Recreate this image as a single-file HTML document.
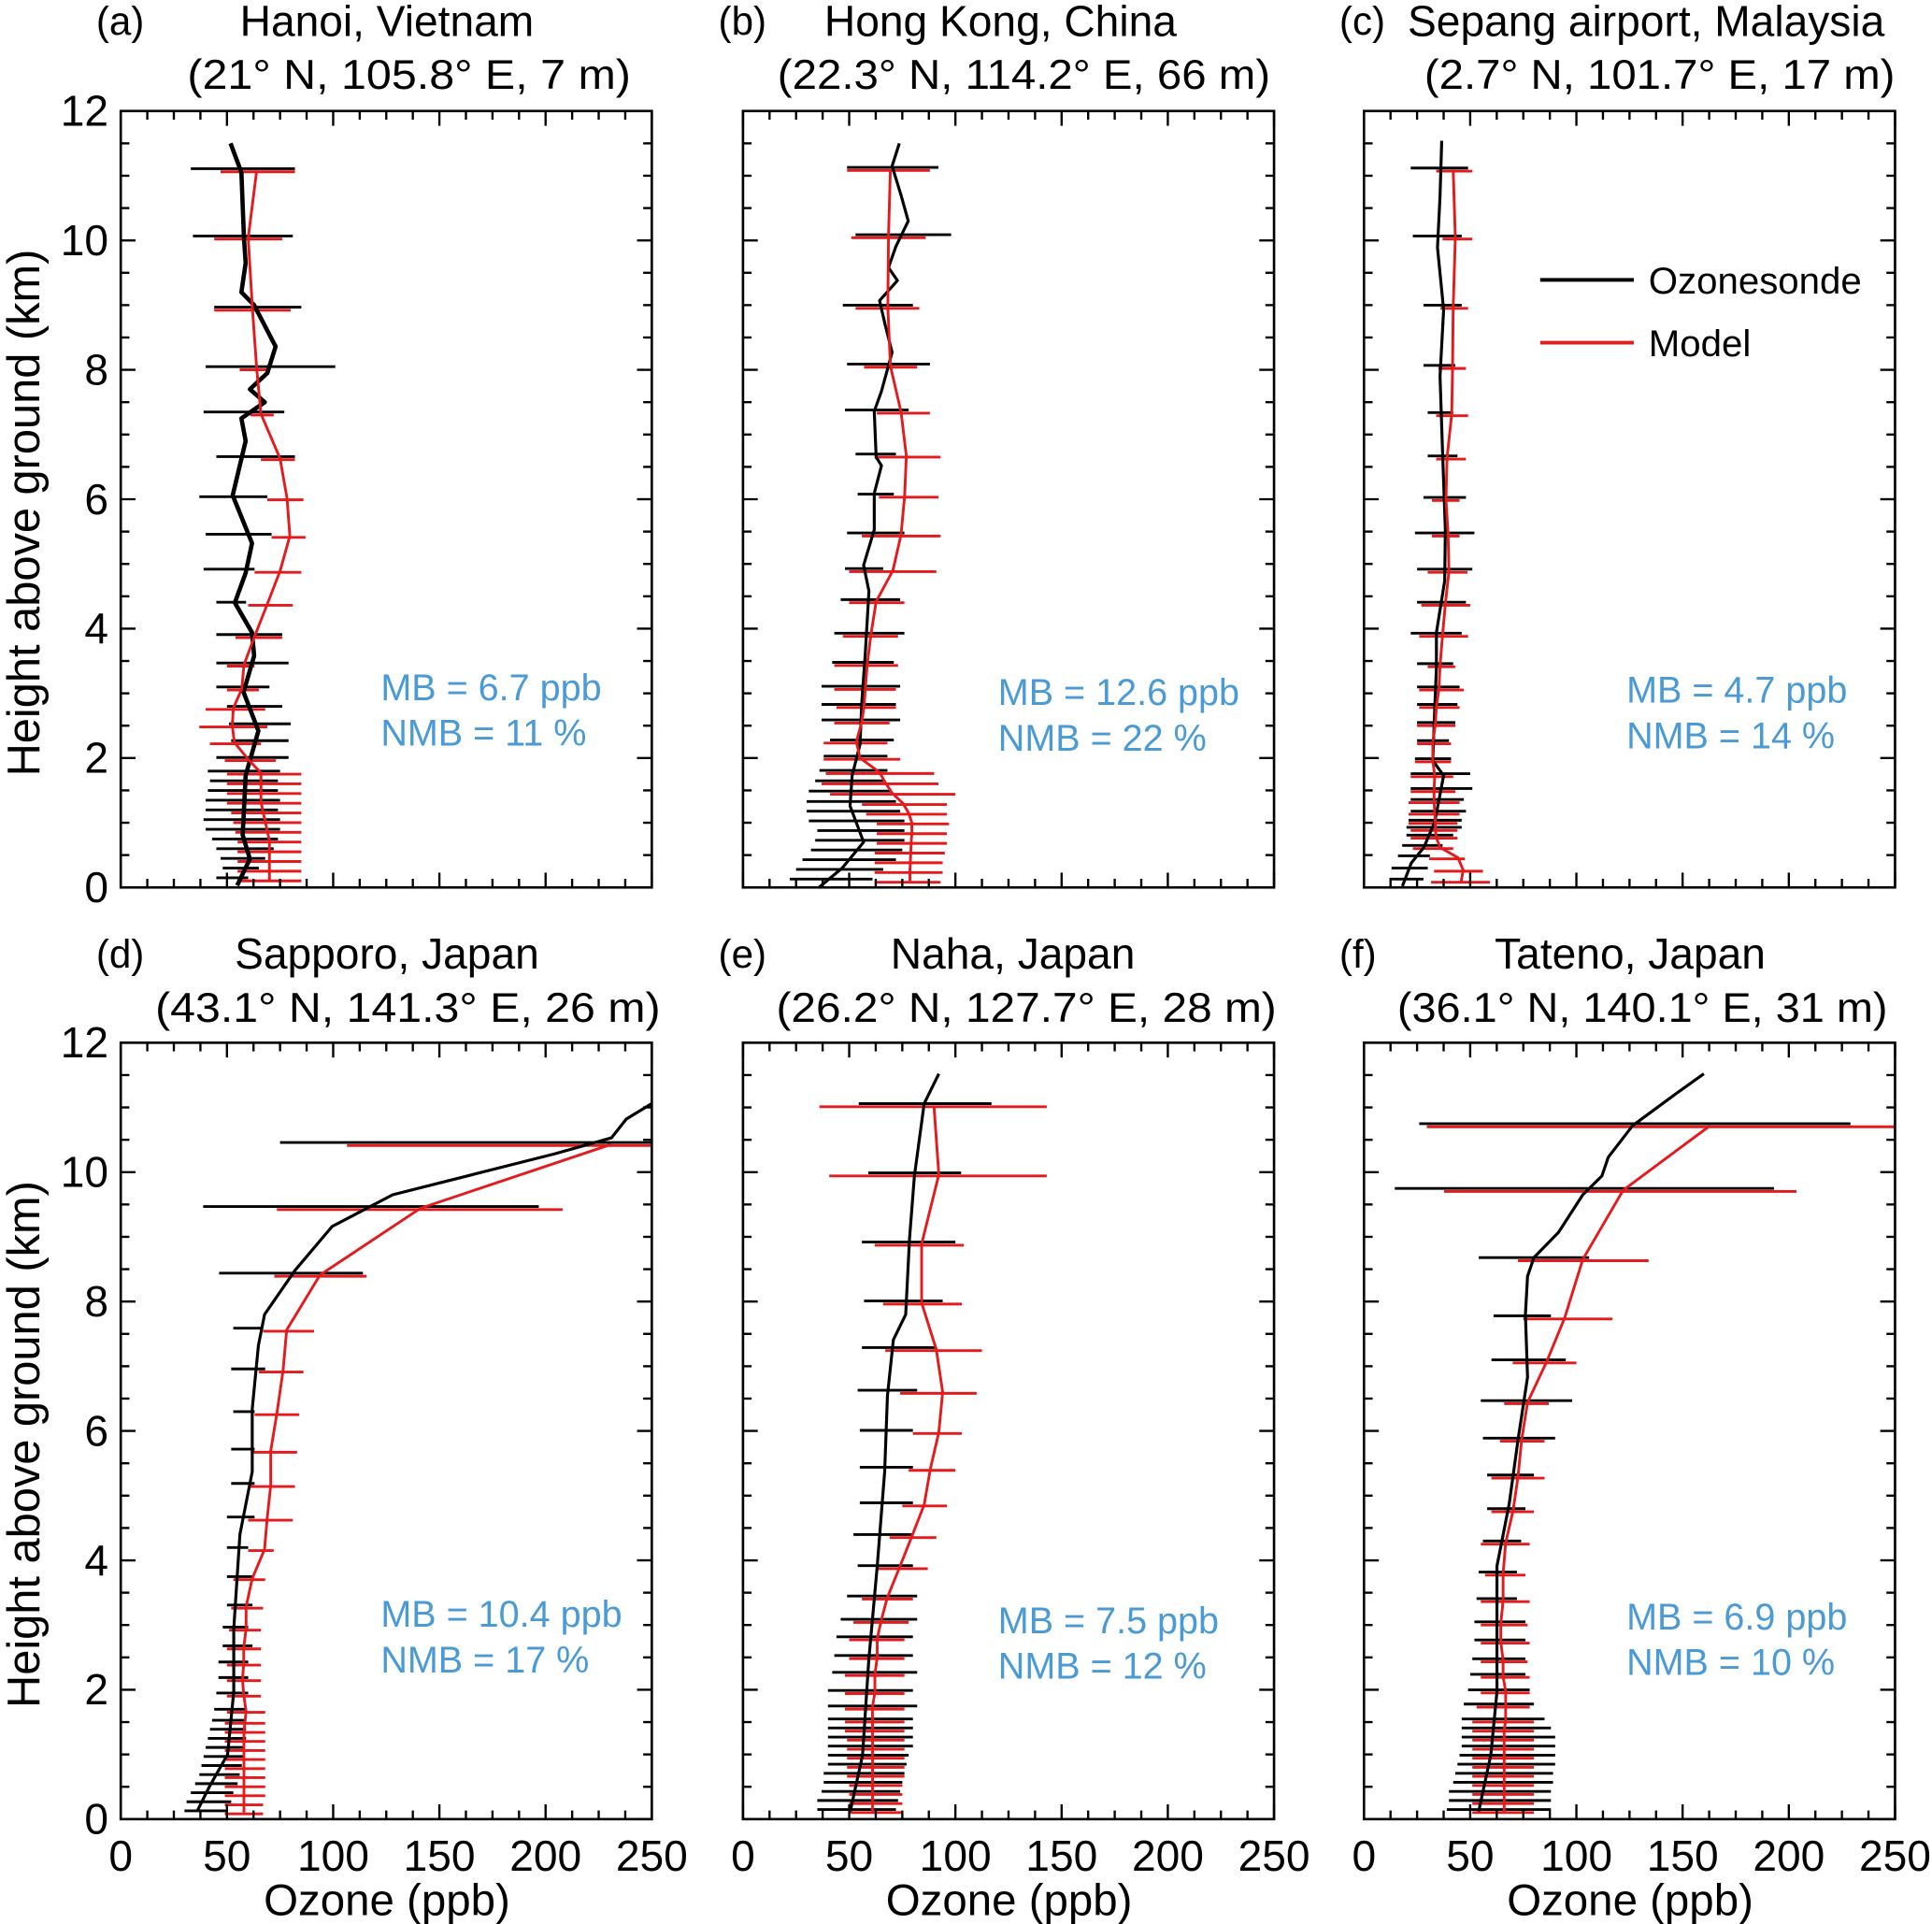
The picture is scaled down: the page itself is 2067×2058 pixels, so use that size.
<!DOCTYPE html>
<html><head><meta charset="utf-8"><style>
html,body{margin:0;padding:0;background:#fff}
svg{display:block}
text{font-family:"Liberation Sans",Arial,sans-serif}
</style></head><body>
<svg id="fig" width="2067" height="2058" viewBox="0 0 1568 1561" xmlns="http://www.w3.org/2000/svg"></svg>
<script>
// ---- Panel (a) Hanoi ----
const aLev=[0.12,0.27,0.42,0.57,0.72,0.87,1.02,1.17,1.32,1.47,1.62,1.77,1.98,2.24,2.5,2.77,3.07,3.44,3.88,4.38,4.89,5.43,6.01,6.63,7.32,8.02,8.94,10.04,11.08];
const aMod=[70,70,70,70,70,69,68,67,66,66,66,66,60,53.5,52.5,53,57,58,63,69,75,79.6,78.3,75,66,64,62,60,64];
const aModLo=[55,55,55,55,55,54,53,52,50,50,50,50,49,42,37,40,50,50,54,60,63,71,69,66,61,56,44,44,47];
const aModHi=[85,85,85,85,85,85,85,85,85,85,85,85,73,66,69,68,65,63,76,81,85,87,86,82,72,69,80,76,82];
const aObsLo=[45,48,47,45,43,40,39,40,40,41,42,41,45,52,51,50,45,45,45,45,39,40,37,45,39,40,44,34,33];
const aObsHi=[60,65,68,72,74,75,75,74,75,74,74,75,79,79,80,76,70,79,76,59,63,71,69,82,77,101,85,81,82];
const aSondeH=[0.03,0.44,0.81,1.73,2.42,3.02,3.58,3.94,4.4,4.86,5.32,6.06,6.9,7.25,7.5,7.7,7.95,8.36,9.0,9.2,9.65,10.04,11.05,11.5];
const aSondeO=[54.8,60.8,57.4,58.8,64.8,57.8,62.8,61.8,53.7,58.8,61.8,52.7,58.8,56.8,67.8,60.8,69,72.9,62.8,56.8,58.8,58,56.8,51.7];
// ---- Panel (b) Hong Kong ----
const bLev=[0.1,0.25,0.4,0.55,0.7,0.85,1.0,1.15,1.3,1.46,1.62,1.78,2.0,2.25,2.56,2.8,3.08,3.45,3.9,4.42,4.9,5.45,6.05,6.67,7.35,8.06,8.97,10.06,11.1];
const bMod=[78.6,78.6,78.8,79,79.2,79.5,79.5,78,75.3,70.2,67,64.3,55.1,53.4,55.9,57,57.6,58.5,60.2,62.7,70.6,74.4,76.1,76.9,74.4,69.4,68.2,68.5,69.4];
const bModLo=[62,62,62,62,63,63,63,58,56,41,37,39,38,38,43,44,43,43,47,50,50,56,64,62,63,57,53,51,49];
const bModHi=[93,94,94,95,96,96,97,96,96,100,92,90,74,68,69,72,72,73,73,76,91,93,92,93,88,82,83,86,88];
const bObsLo=[22,25,28,32,34,35,31,30,30,31,34,36,38,41,37,37,37,42,43,46,48,49,54,53,48,49,47,53,49];
const bObsHi=[61,66,72,75,76,76,76,74,72,70,66,68,68,71,74,72,74,71,76,74,66,76,71,72,78,88,80,98,92];
const bSondeH=[0,0.3,0.7,1.26,1.73,2.21,2.84,3.63,4.58,4.98,5.53,6.09,6.52,6.65,7.36,7.67,8.27,8.7,9.07,9.38,9.58,9.9,10.3,10.7,11.15,11.5];
const bSondeO=[35.8,46.7,56.8,50.4,51.4,55.1,55.9,57.6,59.3,56.8,61.8,61.8,65.2,62.7,61.8,65.2,70.2,66.9,64.3,72.7,68.5,71.9,77.8,74.4,70.2,73.6];
// ---- Panel (c) Sepang ----
const cLev=[0.1,0.27,0.46,0.62,0.78,0.9,1.01,1.15,1.33,1.5,1.73,1.96,2.24,2.52,2.8,3.07,3.43,3.9,4.38,4.89,5.45,6.0,6.64,7.31,8.04,8.97,10.04,11.09];
const cMod=[45.8,46.7,44.2,35.8,34,33.6,33.6,33.3,33,33,33.3,32.4,32.4,33.6,34.1,35.3,35.8,37,38.3,40,39.6,38.6,39.1,41.3,41.7,42,43,42];
const cModLo=[31.6,33,30.7,23,22,22,21,21,21,22,22,24,25,25,26,26,30,26,27,30,32,32,34,34,35,36,37,34];
const cModHi=[59.3,56,47.5,42,44,44,44,45,45,43,42,41,41,43,45,47,43,49,50,48.7,45,45,48,49,48,49,51,51];
const cObsLo=[12,13,16,18,20,20,21,22,22,22,22,24,25,25,25,25,25,22,25,25,24,28,30,30,28,28,23,22];
const cObsHi=[28,30,31,37,42,46,46,48,47,51,50,41,40,43,44,45,42,46,48,51,52,48,44,42,43,46,46,49];
const cSondeH=[0.02,0.38,0.62,1.01,1.73,1.96,2.76,3.39,3.94,4.74,5.53,6.72,7.9,8.93,9.89,10.68,11.54];
const cSondeO=[18.1,22.3,28.2,33.3,37.5,32.4,33.3,34.1,34.1,38,38.3,37,35.8,37.5,34.6,35.8,36.6];
// ---- Panel (d) Sapporo ----
const dLev=[0.1,0.24,0.38,0.52,0.66,0.8,0.94,1.08,1.22,1.36,1.5,1.67,1.92,2.16,2.4,2.65,2.94,3.28,3.72,4.17,4.64,5.16,5.69,6.27,6.93,7.56,8.41,9.44,10.43];
const dMod=[58,58,58,58,58,58,58,58,58,58,58.5,59,57.9,57.3,57.9,57.9,59,59,61.9,67.7,68.9,70.6,70.6,73.5,76.4,78.1,93.8,141,231];
const dModLo=[49,49,49,49,49,49,49,49,49,49,49,50,50,50,50,50,51,52,53,60,60,61,62,63,65,67,72.3,73.5,106.5];
const dModHi=[67,67,68,68,68,68,68,68,68,68,68,68,66,66,66,66,66,67,68,72,81,82,83,84,86,91,115.7,208,262];
const dObsLo=[30,31,33,35,37,38,39,40,41,42,43,44,45,46,46,48,48,50,50,50,50,52,52,53,52,53,46.3,38.8,75];
const dObsHi=[50,52,53,55,56,57,58,58,59,59,59,59,60,60,60,62,60,62,62,60,63,63,63,63,68,67,114,196.8,262];
const dSondeH=[0.12,0.5,1.0,1.97,2.94,4.4,5.37,6.34,7.32,7.8,8.48,9.16,9.65,9.94,10.28,10.53,10.82,11.06];
const dSondeO=[35.9,41.7,50.3,53.2,53.2,56.1,61.9,61.9,64.8,67.7,82,99.5,128,163,204,231,238,250];
// ---- Panel (e) Naha ----
const eLev=[0.12,0.26,0.4,0.54,0.68,0.82,0.96,1.1,1.24,1.38,1.52,1.72,1.96,2.24,2.5,2.79,3.06,3.42,3.89,4.37,4.86,5.41,5.98,6.6,7.26,7.98,8.89,9.96,11.03];
const eMod=[61,61,61,61,61,61,61,61,61,61,61,60.9,62.1,62.1,63.2,63.2,65,67.9,73.7,79.5,85.3,88.2,92.2,94,91,84.1,84.1,92.2,89.9];
const eModLo=[50,50,50,50,49,49,49,49,49,48,48,48,48,48,50,50,52,56,63,69,75,78,80,74,67,66,62,40.6,36];
const eModHi=[75,75,75,75,76,76,76,76,76,76,76,76,76,76,76,76,78,80,87,91,96,100,103,110,112.5,103,104,143,143];
const eObsLo=[35,35,37,38,38,40,40,40,40,40,40,40,40,42,43,44,46,49,54,52,55,55,55,54,56,57,56,59,54.5];
const eObsHi=[72,73,74,75,76,77,78,80,80,80,80,82,80,82,80,80,82,82,80,80,80,80,80,82,91,94,100,102.7,117];
const eSondeH=[0.12,0.99,2.45,3.91,5.37,6.54,7.41,7.8,8.97,9.94,11.06,11.52];
const eSondeO=[50.5,56.3,59.2,63.2,66.7,68,70.8,76.6,78.4,80.7,85.3,92.2];
// ---- Panel (f) Tateno ----
const fLev=[0.12,0.26,0.4,0.54,0.68,0.82,0.96,1.1,1.24,1.38,1.52,1.75,1.97,2.21,2.45,2.74,3.02,3.38,3.79,4.27,4.77,5.29,5.86,6.44,7.07,7.75,8.65,9.72,10.72];
const fMod=[66,66,66,66,66,66,66,66,66,66,66.7,66.7,66.7,65.5,65.5,64.4,64.4,65.5,65.5,66.7,70.2,72.5,74.2,77,86,94.5,103,122,163];
const fModLo=[51,51,51,51,51,51,51,51,51,51,51,53,55,55,55,55,55,55,57,55,60,60,64,66,70,75,72.5,37.7,29.6];
const fModHi=[80,80,80,80,80,80,80,80,80,80,80,78,78,78,77,78,77,78,76,78,80,85,85,87,100,117,134,203.6,270];
const fObsLo=[39,40,40,42,43,44,45,46,46,46,46,47,49,50,51,52,52,53,54,56,58,58,56,55,60,61,54,14.5,26];
const fObsHi=[88,88,88,89,89,90,90,90,90,88,85,80,78,76,76,76,76,72,72,74,76,80,90,98,95,88,106,193,229];
const fSondeH=[0.12,0.99,1.97,2.94,3.91,4.88,5.86,6.83,7.8,8.39,8.68,9.07,9.65,9.94,10.23,10.72,11.21,11.52];
const fSondeO=[54,59.7,62.6,62.6,62.6,68.4,72.5,77,76,77,80,91.6,103,112,115,126.5,146.8,160];

const xTicks=[0,50,100,150,200,250];
const yTicks=[0,2,4,6,8,10,12];
const stats=[["MB = 6.7 ppb","NMB = 11 %"],["MB = 12.6 ppb","NMB = 22 %"],["MB = 4.7 ppb","NMB = 14 %"],["MB = 10.4 ppb","NMB = 17 %"],["MB = 7.5 ppb","NMB = 12 %"],["MB = 6.9 ppb","NMB = 10 %"]];

const NS="http://www.w3.org/2000/svg";
const svg=document.getElementById('fig');
function mk(tag,attrs,parent){const e=document.createElementNS(NS,tag);for(const k in attrs)e.setAttribute(k,attrs[k]);(parent||svg).appendChild(e);return e;}
function txt(s,attrs,parent){const e=mk('text',attrs,parent);e.textContent=s;return e;}

const panels=[
 {id:'a',x0:98,y0:90,lev:aLev,mod:aMod,mlo:aModLo,mhi:aModHi,olo:aObsLo,ohi:aObsHi,sh:aSondeH,so:aSondeO,st:[309,568]},
 {id:'b',x0:603,y0:90,lev:bLev,mod:bMod,mlo:bModLo,mhi:bModHi,olo:bObsLo,ohi:bObsHi,sh:bSondeH,so:bSondeO,st:[810,572]},
 {id:'c',x0:1107,y0:90,lev:cLev,mod:cMod,mlo:cModLo,mhi:cModHi,olo:cObsLo,ohi:cObsHi,sh:cSondeH,so:cSondeO,st:[1320,570]},
 {id:'d',x0:98,y0:846,lev:dLev,mod:dMod,mlo:dModLo,mhi:dModHi,olo:dObsLo,ohi:dObsHi,sh:dSondeH,so:dSondeO,st:[309,1320]},
 {id:'e',x0:603,y0:846,lev:eLev,mod:eMod,mlo:eModLo,mhi:eModHi,olo:eObsLo,ohi:eObsHi,sh:eSondeH,so:eSondeO,st:[810,1325]},
 {id:'f',x0:1107,y0:846,lev:fLev,mod:fMod,mlo:fModLo,mhi:fModHi,olo:fObsLo,ohi:fObsHi,sh:fSondeH,so:fSondeO,st:[1320,1322]}
];
const W=431,H=630;
panels.forEach((p,i)=>{
  const g=mk('g',{});
  
  
  const X=v=>p.x0+v/250*W, Y=v=>p.y0+H-v/12*H;
  const cp=mk('clipPath',{id:'clip'+p.id},g);
  mk('rect',{x:p.x0,y:p.y0,width:W,height:H},cp);
  const plot=mk('g',{'clip-path':'url(#clip'+p.id+')'},g);
  p.lev.forEach((h,k)=>{const l=mk('line',{x1:X(p.olo[k]),x2:X(p.ohi[k]),y1:Y(h)-1.5,y2:Y(h)-1.5,stroke:'#000','stroke-width':2.2},plot);
    });
  p.lev.forEach((h,k)=>{const l=mk('line',{x1:X(p.mlo[k]),x2:X(p.mhi[k]),y1:Y(h)+1,y2:Y(h)+1,stroke:'#e41a1c','stroke-width':2.2},plot);
    });
  const sp=mk('polyline',{points:p.sh.map((h,k)=>X(p.so[k])+','+Y(h)).join(' '),fill:'none',stroke:'#000','stroke-width':p.id==='a'?3.5:2.4,'stroke-linejoin':'round'},plot);
  
  const mp=mk('polyline',{points:p.lev.map((h,k)=>X(p.mod[k])+','+Y(h)).join(' '),fill:'none',stroke:'#e41a1c','stroke-width':2.2},plot);
  
  const fr=mk('rect',{x:p.x0,y:p.y0,width:W,height:H,fill:'none',stroke:'#000','stroke-width':2},g);
  
  for(let v=0;v<=250.01;v+=12.5){const maj=Math.abs(v%50)<0.01;const L=maj?12:7;
    mk('line',{x1:X(v),x2:X(v),y1:p.y0+H,y2:p.y0+H-L,stroke:'#000','stroke-width':1.8},g);
    mk('line',{x1:X(v),x2:X(v),y1:p.y0,y2:p.y0+L,stroke:'#000','stroke-width':1.8},g);}
  for(let v=0;v<=12.01;v+=0.5){const maj=Math.abs(v%2)<0.01;const L=maj?12:7;
    mk('line',{x1:p.x0,x2:p.x0+L,y1:Y(v),y2:Y(v),stroke:'#000','stroke-width':1.8},g);
    mk('line',{x1:p.x0+W,x2:p.x0+W-L,y1:Y(v),y2:Y(v),stroke:'#000','stroke-width':1.8},g);}
  if(p.x0===98){yTicks.forEach(v=>{const t=txt(String(v),{x:88,y:Y(v)+12,'text-anchor':'end','font-size':35},g);
    });}
  if(p.y0===846){xTicks.forEach(v=>{const t=txt(String(v),{x:X(v),y:1518,'text-anchor':'middle','font-size':35},g);
    });
    const xt=txt('Ozone (ppb)',{x:p.x0+216,y:1554,'text-anchor':'middle','font-size':36},g);
    }
  const s1=txt(stats[i][0],{x:p.st[0],y:p.st[1],'font-size':30,fill:'#4a9ad6'},g);
  
  const s2=txt(stats[i][1],{x:p.st[0],y:p.st[1]+37,'font-size':30,fill:'#4a9ad6'},g);
  
});
const titles=[
 ['(a)',78,28,'Hanoi, Vietnam',314,'(21° N, 105.8° E, 7 m)',332,72,360],
 ['(b)',583,28,'Hong Kong, China',812,'(22.3° N, 114.2° E, 66 m)',831,72,400],
 ['(c)',1087,28,'Sepang airport, Malaysia',1336,'(2.7° N, 101.7° E, 17 m)',1347,72,382],
 ['(d)',78,785,'Sapporo, Japan',314,'(43.1° N, 141.3°  E, 26 m)',331,829,410],
 ['(e)',583,785,'Naha, Japan',822,'(26.2° N, 127.7° E, 28 m)',833,829,406],
 ['(f)',1087,785,'Tateno, Japan',1323,'(36.1° N, 140.1° E, 31 m)',1333,829,398]
];
titles.forEach(t=>{
  const a=txt(t[0],{x:t[1],y:t[2],'font-size':32},undefined);
  const b=txt(t[3],{x:t[4],y:t[2]+1,'text-anchor':'middle','font-size':35},undefined);
  const c=txt(t[5],{x:t[6],y:t[7],'text-anchor':'middle','font-size':34,textLength:t[8],lengthAdjust:'spacingAndGlyphs'});
});
[416,1172].forEach(cy=>{const t=txt('Height above ground (km)',{x:0,y:0,'text-anchor':'middle','font-size':37,transform:'translate(32,'+cy+') rotate(-90)'});
  });
const lg=mk('g',{});
mk('line',{x1:1250,x2:1326,y1:227,y2:227,stroke:'#000','stroke-width':3},lg);
const l1=txt('Ozonesonde',{x:1338,y:238,'font-size':30.5},lg);
mk('line',{x1:1250,x2:1326,y1:278,y2:278,stroke:'#e41a1c','stroke-width':3},lg);
const l2=txt('Model',{x:1338,y:289,'font-size':30.5},lg);
</script>
</body></html>
